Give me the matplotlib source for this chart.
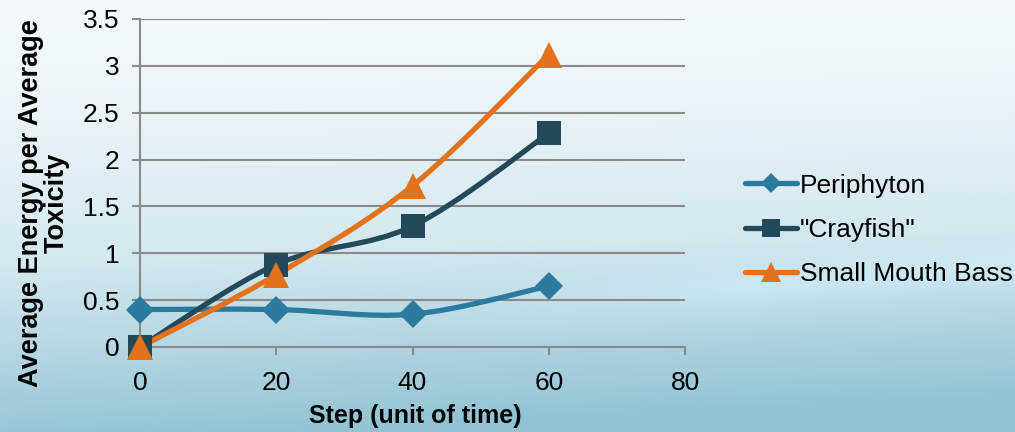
import numpy as np
import matplotlib
matplotlib.use('Agg')
import matplotlib.pyplot as plt
from matplotlib.path import Path
from matplotlib.patches import PathPatch
from matplotlib.lines import Line2D

plt.rcParams['font.family'] = ['Liberation Sans', 'DejaVu Sans']

steps = [0, 20, 40, 60]
periphyton = [0.40, 0.40, 0.35, 0.65]
crayfish = [0.0, 0.88, 1.29, 2.28]
bass = [0.0, 0.77, 1.72, 3.12]

series_names = ['Periphyton', '"Crayfish"', 'Small Mouth Bass']
series_colors = ['#2a7b9e', '#234a5a', '#e2721c']
series_markers = ['D', 's', '^']
marker_sizes = [14, 17, 19]

x_ticks = [0, 20, 40, 60, 80]
y_ticks = [0, 0.5, 1, 1.5, 2, 2.5, 3, 3.5]
y_tick_labels = ['0', '0.5', '1', '1.5', '2', '2.5', '3', '3.5']


def smooth_path(xs, ys):
    # Catmull-Rom style bezier segments, like a spreadsheet "smoothed line"
    pts = np.column_stack([xs, ys]).astype(float)
    n = len(pts)
    verts = [pts[0]]
    codes = [Path.MOVETO]
    for i in range(n - 1):
        p0 = pts[max(i - 1, 0)]
        p1 = pts[i]
        p2 = pts[i + 1]
        p3 = pts[min(i + 2, n - 1)]
        c1 = p1 + (p2 - p0) / 6.0
        c2 = p2 - (p3 - p1) / 6.0
        verts += [c1, c2, p2]
        codes += [Path.CURVE4] * 3
    return Path(verts, codes)


fig = plt.figure(figsize=(10.15, 4.32), dpi=100)

# background wash
bg = fig.add_axes([0, 0, 1, 1], zorder=-10)
h, w = 432, 1015
yy, xx = np.mgrid[0:h, 0:w]
t = yy / (h - 1)
s = xx / (w - 1)
top = np.array([243, 249, 252]) / 255
mid = np.array([212, 232, 239]) / 255
bot = np.array([145, 195, 212]) / 255
k = np.clip(t ** 1.45 + 0.12 * s * t - 0.05 * (1 - s) * t, 0, 1)[..., None]
img = np.where(k < 0.45, top + (mid - top) * (k / 0.45),
               mid + (bot - mid) * ((k - 0.45) / 0.55))
band = np.exp(-((t - 0.82 + 0.20 * s) / 0.05) ** 2) * np.clip((s - 0.4) * 3, 0, 1)
img = img + 0.035 * band[..., None]
bg.imshow(np.clip(img, 0, 1), aspect='auto', extent=[0, 1, 0, 1])
bg.axis('off')

ax = fig.add_axes([140 / 1015, 1 - 347 / 432, 545 / 1015, 328 / 432])
ax.patch.set_alpha(0)

for ys, name, col, mk, ms in zip([periphyton, crayfish, bass], series_names,
                                 series_colors, series_markers, marker_sizes):
    patch = PathPatch(smooth_path(steps, ys), facecolor='none', edgecolor=col,
                      lw=3.8, capstyle='round', joinstyle='round', zorder=3,
                      clip_on=False)
    ax.add_patch(patch)
    ax.plot(steps, ys, linestyle='none', marker=mk, markersize=ms, color=col,
            markeredgewidth=0, zorder=4, clip_on=False)

ax.set_xlim(0, 80)
ax.set_ylim(0, 3.5)
ax.set_xticks(x_ticks)
ax.set_yticks(y_ticks)
ax.set_yticklabels(y_tick_labels)
ax.grid(axis='y', color='#8a8a8a', lw=1.5, zorder=1)
ax.set_axisbelow(True)
for side in ['top', 'right']:
    ax.spines[side].set_visible(False)
for side in ['left', 'bottom']:
    ax.spines[side].set_color('#8a8a8a')
    ax.spines[side].set_linewidth(1.5)
ax.tick_params(axis='both', colors='#8a8a8a', width=1.5, length=6,
               labelcolor='black', labelsize=19)
ax.tick_params(axis='x', pad=11)
ax.tick_params(axis='y', pad=9)

fig.text(44 / 1015, 1 - 203 / 432, 'Average Energy per Average\nToxicity',
         rotation=90, ha='center', va='center', multialignment='center',
         fontsize=19.5, fontweight='bold', linespacing=0.98)
fig.text(415 / 1015, 1 - 416 / 432, 'Step (unit of time)', ha='center',
         va='center', fontsize=18, fontweight='bold')

handles = [Line2D([0], [0], color=c, lw=3.8, marker=m, markersize=ms * 0.75,
                  markeredgewidth=0, solid_capstyle='round')
           for c, m, ms in zip(series_colors, series_markers, marker_sizes)]
fig.legend(handles, series_names, loc='center left',
           bbox_to_anchor=(734 / 1015, 1 - 230 / 432), frameon=False,
           fontsize=19, handlelength=2.0, handletextpad=0.1,
           labelspacing=0.77, borderaxespad=0)

fig.savefig('out.png', dpi=100)
